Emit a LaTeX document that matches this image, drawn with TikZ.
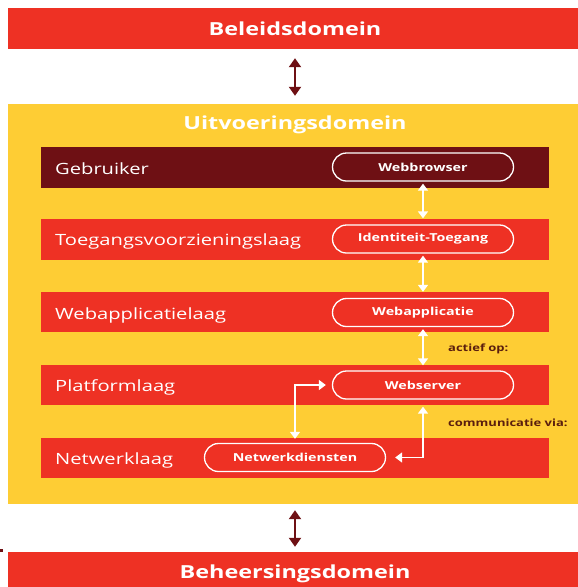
\documentclass[tikz,border=0pt]{standalone}
\usepackage{fontspec}
\setmainfont{Open Sans}[FakeStretch=1.3]
\usetikzlibrary{arrows.meta}
\definecolor{rood}{HTML}{EE3124}
\definecolor{donker}{HTML}{6E1014}
\definecolor{geel}{HTML}{FECD34}
\definecolor{bruin}{HTML}{5A1E0E}
\tikzset{
  domainbar/.style={fill=rood, draw=none, minimum width=574pt, minimum height=41pt, inner sep=0pt, text=white, font=\bfseries\fontsize{18}{20}\selectfont},
  layerbar/.style={fill=rood, draw=none, minimum width=508pt, inner sep=0pt},
  layerlabel/.style={anchor=west, text=white, font=\fontsize{15.5}{17}\selectfont, inner sep=0pt},
  pill/.style={draw=white, line width=1.3pt, rounded corners=14pt, minimum width=181pt, minimum height=28pt, inner sep=0pt, text=white, font=\bfseries\fontsize{11}{13}\selectfont},
  whitearrow/.style={draw=white, line width=1.6pt, {Triangle[width=10pt,length=7pt]}-{Triangle[width=10pt,length=7pt]}},
  darkarrow/.style={draw=donker, line width=2pt, {Triangle[width=12pt,length=9pt]}-{Triangle[width=12pt,length=9pt]}},
  note/.style={anchor=west, text=bruin, font=\bfseries\fontsize{10}{12}\selectfont, inner sep=0pt}
}
\begin{document}
\begin{tikzpicture}[x=1pt, y=-1pt]
\useasboundingbox (0,0) rectangle (578,587);
\fill[white] (0,0) rectangle (578,587);
% domains
\node[domainbar] (beleid) at (295,28.5) {Beleidsdomein};
\node[fill=geel, draw=none, minimum width=574pt, minimum height=400pt, inner sep=0pt] (uit) at (295,304) {};
\node[text=white, font=\bfseries\fontsize{18}{20}\selectfont, inner sep=0pt] (uittitel) at (295,125) {Uitvoeringsdomein};
\node[domainbar, minimum height=44pt] (beheer) at (295,574) {\raisebox{-3pt}{Beheersingsdomein}};
\fill[donker] (0,549) rectangle (3,551.5);
% layers
\node[layerbar, fill=donker, minimum height=41pt] (l1) at (295,167.5) {};
\node[layerbar, minimum height=41pt] (l2) at (295,239.5) {};
\node[layerbar, minimum height=40pt] (l3) at (295,312) {};
\node[layerbar, minimum height=40pt] (l4) at (295,385) {};
\node[layerbar, minimum height=40pt] (l5) at (295,458) {};
\node[layerlabel] (t1) at (55,169) {Gebruiker};
\node[layerlabel] (t2) at (55,241) {Toegangsvoorzieningslaag};
\node[layerlabel] (t3) at (55,315) {Webapplicatielaag};
\node[layerlabel] (t4) at (55,387) {Platformlaag};
\node[layerlabel] (t5) at (55,460) {Netwerklaag};
% pills
\node[pill] (wb) at (423,167) {Webbrowser};
\node[pill] (id) at (423,239) {Identiteit-Toegang};
\node[pill] (wa) at (423,312.5) {Webapplicatie};
\node[pill] (ws) at (423,385) {Webserver};
\node[pill] (nd) at (295,457.5) {Netwerkdiensten};
% arrows
\draw[whitearrow, shorten <=2pt, shorten >=6pt] (wb.south) -- (id.north);
\draw[whitearrow, shorten <=2pt, shorten >=6pt] (id.south) -- (wa.north);
\draw[whitearrow, shorten <=2pt, shorten >=5pt] (wa.south) -- (ws.north);
\draw[whitearrow, shorten <=4pt, shorten >=6pt] (nd.north) |- (ws.west);
\draw[whitearrow, shorten <=7pt, shorten >=9pt] (ws.south) |- (nd.east);
\node[note] (n1) at (448,349) {actief op:};
\node[note] (n2) at (448,423) {communicatie via:};
\draw[darkarrow, shorten <=9pt, shorten >=8pt] (beleid.south) -- (uit.north);
\draw[darkarrow, shorten <=6pt, shorten >=5pt] (uit.south) -- (beheer.north);
\end{tikzpicture}
\end{document}
